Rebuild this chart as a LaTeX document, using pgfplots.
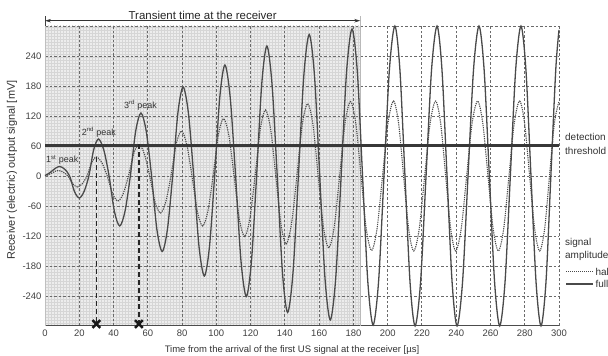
\documentclass[border=0pt]{standalone}
\usepackage{pgfplots}
\pgfplotsset{compat=1.18}
\usepackage{fontspec}
\setmainfont{Liberation Sans}
\usetikzlibrary{arrows.meta,patterns}
\definecolor{curve}{HTML}{4A4A4A}
\definecolor{gridc}{HTML}{6A6A6A}
\begin{document}
\begin{tikzpicture}
\begin{axis}[
  set layers,
  scale only axis,
  width=514bp, height=300bp,
  xmin=0, xmax=300, ymin=-300, ymax=300,
  axis x line*=bottom, axis y line*=left,
  axis line style={-},
  x axis line style={draw=black!70, line width=1bp},
  y axis line style={draw=gray!50, line width=0.6bp},
  xtick={20,40,...,300},
  extra x ticks={0},
  extra x tick style={grid=none},
  ytick={-240,-180,...,240},
  extra y ticks={300},
  extra y tick labels={},
  extra y tick style={grid=major},
  major tick length=0pt,
  grid=major,
  major grid style={draw=gridc, line width=0.9bp, dash pattern=on 2.5bp off 2bp},
  tick label style={font=\fontsize{9.5}{10}\selectfont, text=black!75},
  /pgf/number format/assume math mode=true,
  xlabel={Time from the arrival of the first US signal at the receiver [µs]},
  ylabel={Receiver (electric) output signal [mV]},
  xlabel style={font=\fontsize{9.5}{10}\selectfont, text=black!80, at={(axis description cs:0.4805,-0.0817)}, anchor=center},
  ylabel style={font=\fontsize{11}{12}\selectfont, text=black!80, at={(axis description cs:-0.0642,0.52)}, anchor=center},
  clip=false,
]
\begin{pgfonlayer}{axis background}
\fill[gray!14] (axis cs:0,-300) rectangle (axis cs:184,300);
\fill[pattern=grid, pattern color=gray!32] (axis cs:0,-300) rectangle (axis cs:184,300);
\end{pgfonlayer}
\draw[gray!55, line width=1.2bp] (axis cs:184,-300) -- (axis cs:184,320);
\draw[black!75, line width=0.8bp] (axis cs:0,300) -- (axis cs:0,320);
\draw[black!80, line width=0.8bp, {Stealth[length=6bp,width=3.5bp]}-{Stealth[length=6bp,width=3.5bp]}] (axis cs:0,310.6) -- (axis cs:184,310.6);
\node[anchor=base, font=\fontsize{11.5}{12}\selectfont, text=black!85, inner sep=0pt] at (axis cs:92,313) {Transient time at the receiver};

% half amplitude (dotted)
\addplot[smooth, color=curve, line width=1.1bp, dash pattern=on 1.2bp off 1bp] coordinates {
(0,0)(2,2.5)(4,6)(6,9.5)(7.75,11)
(10.56,7.8)(13.38,0)(16.19,-15.6)(19,-22)
(21.75,-15.6)(24.5,0)(27.25,26.9)(30,38)
(33.15,26.9)(36.3,0)(39.45,-35.4)(42.6,-50)
(45.65,-35.4)(48.7,0)(51.75,44.5)(54.8,63)
(57.95,44.5)(61.1,0)(64.25,-52.3)(67.4,-74)
(70.45,-52.3)(73.5,0)(76.55,63.6)(79.6,90)
(82.7,63.6)(85.8,0)(88.9,-70.7)(92,-100)
(95.05,-70.7)(98.1,0)(101.15,81.3)(104.2,115)
(107.3,81.3)(110.35,0)(113.4,-85.5)(116.5,-121)
(119.55,-85.5)(122.6,0)(125.65,93.3)(128.7,132)
(131.7,93.3)(134.7,0)(137.7,-96.2)(140.7,-136)
(143.85,-96.2)(147,0)(150.15,102.5)(153.3,145)
(156.4,102.5)(159.45,0)(162.5,-101.8)(165.6,-144)
(168.8,-101.8)(171.95,0)(175.1,105.4)(178.3,149)
(181.4,105.4)(184.45,0)(187.5,-105.4)(190.6,-149)
(193.8,-105.4)(197,0)(200.2,106.1)(203.4,150)
(206.35,106.1)(209.3,0)(212.25,-106.1)(215.2,-150)
(218.4,-106.1)(221.6,0)(224.8,106.1)(228,150)
(230.9,106.1)(233.85,0)(236.8,-106.1)(239.7,-150)
(242.9,-106.1)(246.1,0)(249.3,106.1)(252.5,150)
(255.5,106.1)(258.55,0)(261.6,-106.1)(264.6,-150)
(267.7,-106.1)(270.8,0)(273.9,106.1)(277,150)
(279.9,106.1)(282.85,0)(285.8,-106.1)(288.7,-150)
(291.6,-106.1)(294.45,0)(297.3,106.1)(300,149)
};
% full amplitude (solid)
\addplot[smooth, color=curve, line width=1.3bp] coordinates {
(0,1)(2.2,5)(4.4,11)(6.6,16.5)(8.75,19)
(11.56,13.4)(14.38,0)(17.19,-31.1)(20,-44)
(22.8,-31.1)(25.6,0)(28.4,52.3)(31.2,74)
(34.3,52.3)(37.4,0)(40.5,-70.7)(43.6,-100)
(46.7,-70.7)(49.8,0)(52.9,89.1)(56,126)
(59.1,89.1)(62.2,0)(65.3,-106.8)(68.4,-151)
(71.45,-106.8)(74.5,0)(77.55,125.8)(80.6,178)
(83.7,125.8)(86.8,0)(89.9,-141.4)(93,-200)
(96,-141.4)(99,0)(102,157)(105,222)
(108.1,157)(111.25,0)(114.4,-170.4)(117.5,-241)
(120.5,-170.4)(123.5,0)(126.5,183.8)(129.5,260)
(132.5,183.8)(135.55,0)(138.6,-193)(141.6,-273)
(144.75,-193)(147.9,0)(151.05,200.1)(154.2,283)
(157.3,200.1)(160.35,0)(163.4,-203.6)(166.5,-288)
(169.7,-203.6)(172.85,0)(176,207.9)(179.2,294)
(182.3,207.9)(185.35,0)(188.4,-210.7)(191.5,-298)
(194.7,-210.7)(197.85,0)(201,212.1)(204.2,300)
(207.15,212.1)(210.1,0)(213.05,-212.1)(216,-300)
(219.2,-212.1)(222.4,0)(225.6,212.1)(228.8,300)
(231.7,212.1)(234.65,0)(237.6,-212.1)(240.5,-300)
(243.7,-212.1)(246.9,0)(250.1,212.1)(253.3,300)
(256.3,212.1)(259.35,0)(262.4,-212.1)(265.4,-300)
(268.5,-212.1)(271.6,0)(274.7,212.1)(277.8,300)
(280.7,212.1)(283.65,0)(286.6,-212.1)(289.5,-300)
(292.4,-212.1)(295.25,0)(298.1,212.1)(300,292)
};
% detection threshold
\addplot[black!78, line width=3bp] coordinates {(0,61)(300,61)};
% peak markers
\addplot[black!85, line width=1.8bp, dash pattern=on 5bp off 3bp] coordinates {(30,38)(30,-300)};
\addplot[black!85, line width=1.8bp, dash pattern=on 5bp off 3bp] coordinates {(54.8,63)(54.8,-300)};
\addplot[only marks, mark=x, mark size=5.5bp, black!90, mark options={line width=2.6bp}] coordinates {(30,-296)(54.8,-296)};

\node[anchor=west, inner sep=0pt, font=\fontsize{9}{10}\selectfont, text=black!80] at (axis cs:0.6,32) {1\textsuperscript{st} peak};
\node[anchor=west, inner sep=0pt, font=\fontsize{9}{10}\selectfont, text=black!80] at (axis cs:21.4,88) {2\textsuperscript{nd} peak};
\node[anchor=west, inner sep=0pt, font=\fontsize{9}{10}\selectfont, text=black!80] at (axis cs:46.1,142) {3\textsuperscript{rd} peak};

\node[anchor=west, inner sep=0pt, align=left, font=\fontsize{10}{14}\selectfont, text=black!80] at ([xshift=6bp]axis cs:300,64) {detection\\threshold};
\node[anchor=west, inner sep=0pt, align=left, font=\fontsize{10}{13}\selectfont, text=black!80] at ([xshift=6bp]axis cs:300,-147) {signal\\amplitude};
\draw[curve, line width=1bp, dash pattern=on 1bp off 1bp] ([xshift=7bp]axis cs:300,-192) -- ([xshift=34bp]axis cs:300,-192) node[right, inner sep=2bp, font=\fontsize{10}{12}\selectfont, text=black!80] {half};
\draw[curve, line width=1.3bp] ([xshift=7bp]axis cs:300,-216) -- ([xshift=34bp]axis cs:300,-216) node[right, inner sep=2bp, font=\fontsize{10}{12}\selectfont, text=black!80] {full};
\end{axis}
\pgfresetboundingbox
\path[use as bounding box] ([xshift=-45bp,yshift=-30bp]current axis.south west) rectangle ([xshift=49bp,yshift=26bp]current axis.north east);
\end{tikzpicture}
\end{document}
